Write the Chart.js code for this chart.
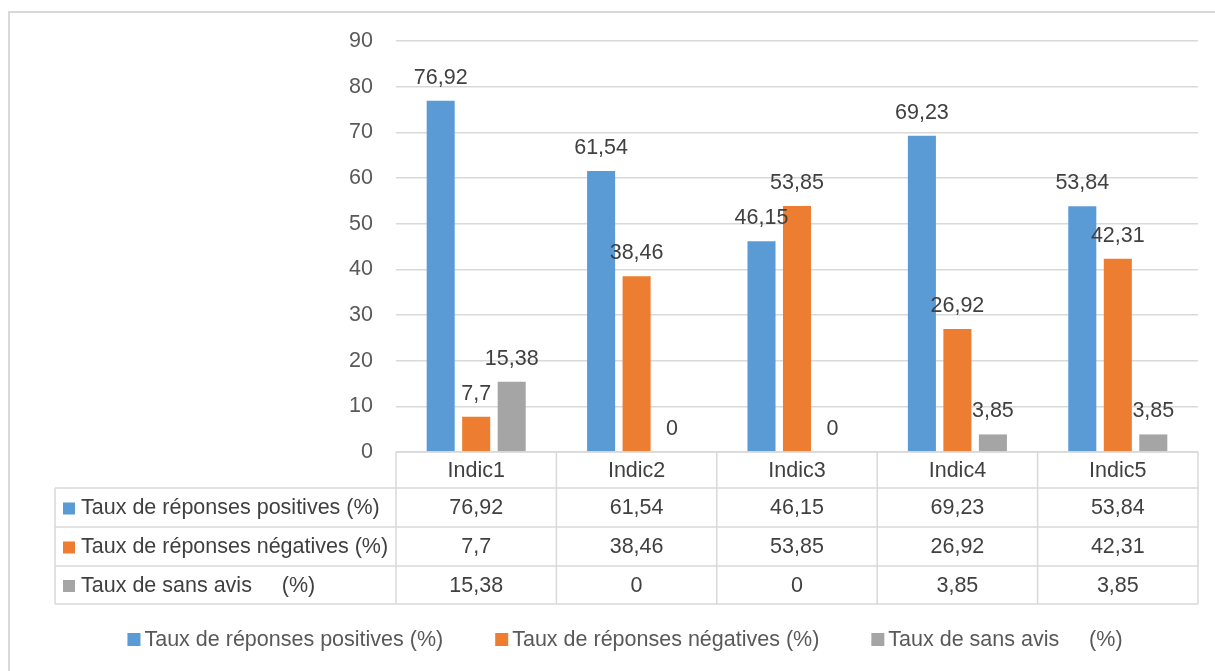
<!DOCTYPE html>
<html>
<head>
<meta charset="utf-8">
<script src="https://cdn.jsdelivr.net/npm/chart.js@4/dist/chart.umd.min.js"></script>
<style>
  html, body { margin: 0; padding: 0; background: #fff; }
  #wrap { position: relative; width: 1215px; height: 671px; }
</style>
</head>
<body>
<div id="wrap"><canvas id="myChart"></canvas></div>
<script>
const categories = ['Indic1', 'Indic2', 'Indic3', 'Indic4', 'Indic5'];
const seriesLabels = ['Taux de réponses positives (%)', 'Taux de réponses négatives (%)', 'Taux de sans avis     (%)'];
const positives = [76.92, 61.54, 46.15, 69.23, 53.84];
const negatives = [7.7, 38.46, 53.85, 26.92, 42.31];
const sansAvis = [15.38, 0, 0, 3.85, 3.85];
const seriesColors = ['#5B9BD5', '#ED7D31', '#A5A5A5'];
const yMax = 90;
const yStep = 10;

const FONT = "'Liberation Sans', Arial, sans-serif";
const FSIZE = 21.5;
const fmt = v => String(v).replace('.', ',');

// table rows under the x axis (y edges), legend line
const rowEdges = [452, 488, 527, 566, 604];
const tableLeft = 55;
const legendY = 640;

const tablePlugin = {
    id: 'tableAndLabels',
    afterDatasetsDraw(chart) {
        const ctx = chart.ctx;
        ctx.save();
        ctx.font = FSIZE + 'px ' + FONT;
        ctx.fillStyle = '#404040';
        ctx.textAlign = 'center';
        ctx.textBaseline = 'alphabetic';
        chart.data.datasets.forEach((ds, di) => {
            chart.getDatasetMeta(di).data.forEach((bar, i) => {
                ctx.fillText(fmt(ds.data[i]), bar.x, bar.y - 17);
            });
        });
        ctx.restore();
    },
    afterDraw(chart) {
        const ctx = chart.ctx;
        const xs = chart.scales.x;
        const area = chart.chartArea;
        const colW = (area.right - area.left) / categories.length;
        ctx.save();

        // frame
        ctx.strokeStyle = '#D9D9D9';
        ctx.lineWidth = 2;
        ctx.strokeRect(9, 12, 1400, 1000);

        // table grid
        ctx.lineWidth = 1.5;
        ctx.beginPath();
        ctx.moveTo(area.left, rowEdges[0]); ctx.lineTo(area.right, rowEdges[0]);
        for (let r = 1; r < rowEdges.length; r++) {
            ctx.moveTo(tableLeft, rowEdges[r]); ctx.lineTo(area.right, rowEdges[r]);
        }
        ctx.moveTo(tableLeft, rowEdges[1]); ctx.lineTo(tableLeft, rowEdges[4]);
        for (let c = 0; c <= categories.length; c++) {
            const x = area.left + c * colW;
            ctx.moveTo(x, rowEdges[0]); ctx.lineTo(x, rowEdges[4]);
        }
        ctx.stroke();

        ctx.font = FSIZE + 'px ' + FONT;
        ctx.fillStyle = '#404040';
        ctx.textAlign = 'center';
        ctx.textBaseline = 'middle';
        categories.forEach((c, i) => {
            ctx.fillText(c, xs.getPixelForValue(i), (rowEdges[0] + rowEdges[1]) / 2 + 1);
        });
        chart.data.datasets.forEach((ds, di) => {
            const yc = (rowEdges[di + 1] + rowEdges[di + 2]) / 2 + 1;
            ctx.textAlign = 'center';
            ds.data.forEach((v, i) => ctx.fillText(fmt(v), xs.getPixelForValue(i), yc));
            ctx.fillStyle = ds.backgroundColor;
            ctx.fillRect(63, yc - 6, 12, 12);
            ctx.fillStyle = '#404040';
            ctx.textAlign = 'left';
            ctx.fillText(ds.label, 81, yc);
        });

        // legend
        const gap = 52;
        const items = chart.data.datasets.map(ds => ({ ds, w: 13 + 4 + ctx.measureText(ds.label).width }));
        const total = items.reduce((s, it) => s + it.w, 0) + gap * (items.length - 1);
        let x = 625 - total / 2;
        ctx.textAlign = 'left';
        items.forEach(it => {
            ctx.fillStyle = it.ds.backgroundColor;
            ctx.fillRect(x, legendY - 7, 13, 13);
            ctx.fillStyle = '#595959';
            ctx.fillText(it.ds.label, x + 17, legendY);
            x += it.w + gap;
        });
        ctx.restore();
    }
};

const ctx = document.getElementById('myChart').getContext('2d');
const myChart = new Chart(ctx, {
    type: 'bar',
    data: {
        labels: categories,
        datasets: [positives, negatives, sansAvis].map((d, i) => ({
            label: seriesLabels[i],
            data: d,
            backgroundColor: seriesColors[i],
            borderWidth: 0,
            barPercentage: 0.79,
            categoryPercentage: 0.664
        }))
    },
    options: {
        responsive: true,
        maintainAspectRatio: false,
        animation: false,
        layout: { padding: { top: 41, right: 17, left: 0, bottom: 0 } },
        plugins: { legend: { display: false }, tooltip: { enabled: false } },
        scales: {
            x: {
                ticks: { display: false },
                grid: { display: false, drawTicks: false },
                border: { display: false },
                afterFit: s => { s.height = 219; }
            },
            y: {
                min: 0, max: yMax,
                ticks: { stepSize: yStep, padding: 23, color: '#595959', font: { family: FONT, size: FSIZE } },
                grid: { color: '#D9D9D9', lineWidth: 1.5, drawTicks: false },
                border: { display: false },
                afterFit: s => { s.width = 396; }
            }
        }
    },
    plugins: [tablePlugin]
});
</script>
</body>
</html>
